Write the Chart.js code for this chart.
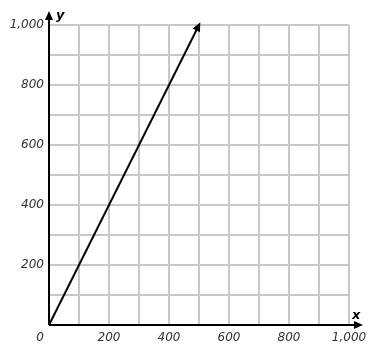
<!DOCTYPE html>
<html>
<head>
<meta charset="utf-8">
<script src="https://cdn.jsdelivr.net/npm/chart.js@4"></script>
<style>
  html, body { margin: 0; padding: 0; background: #fff; }
  #wrap { width: 375px; height: 360px; }
</style>
</head>
<body>
<div id="wrap"><canvas id="grafica"></canvas></div>
<script>
// datos de la recta (x, y)
const puntosX = [0, 500];
const puntosY = [0, 1000];
// escalas
const ejeMin = 0;
const ejeMax = 1000;
const paso = 100;
const etiquetasMarcadas = [200, 400, 600, 800, 1000];

const fuente = "'DejaVu Sans', Verdana, sans-serif";

function flecha(ctx, x0, y0, x1, y1, largo, ancho) {
  const ang = Math.atan2(y1 - y0, x1 - x0);
  ctx.beginPath();
  ctx.moveTo(x1, y1);
  ctx.lineTo(x1 - largo * Math.cos(ang) + ancho * Math.sin(ang), y1 - largo * Math.sin(ang) - ancho * Math.cos(ang));
  ctx.lineTo(x1 - largo * Math.cos(ang) - ancho * Math.sin(ang), y1 - largo * Math.sin(ang) + ancho * Math.cos(ang));
  ctx.closePath();
  ctx.fill();
}

// dibuja los ejes con flechas, la flecha de la recta y los nombres x, y
const ejesPlugin = {
  id: "ejes",
  afterDatasetsDraw(chart) {
    const ctx = chart.ctx;
    const sx = chart.scales.x, sy = chart.scales.y;
    const ox = sx.getPixelForValue(0), oy = sy.getPixelForValue(0);
    ctx.save();
    ctx.strokeStyle = "#000";
    ctx.fillStyle = "#000";
    ctx.lineWidth = 2;
    // eje y
    ctx.beginPath();
    ctx.moveTo(ox, oy);
    ctx.lineTo(ox, 16);
    ctx.stroke();
    flecha(ctx, ox, oy, ox, 11, 9, 4);
    // eje x
    ctx.beginPath();
    ctx.moveTo(ox, oy);
    ctx.lineTo(358, oy);
    ctx.stroke();
    flecha(ctx, ox, oy, 363, oy, 9, 4);
    // flecha al final de la recta
    const n = puntosX.length - 1;
    const x0 = sx.getPixelForValue(puntosX[n - 1]), y0 = sy.getPixelForValue(puntosY[n - 1]);
    const x1 = sx.getPixelForValue(puntosX[n]), y1 = sy.getPixelForValue(puntosY[n]);
    const ang = Math.atan2(y1 - y0, x1 - x0);
    flecha(ctx, x0, y0, x1 + 3 * Math.cos(ang), y1 + 3 * Math.sin(ang), 9, 4);
    // nombres de los ejes
    ctx.font = "italic bold 13px " + fuente;
    ctx.textAlign = "left";
    ctx.textBaseline = "alphabetic";
    ctx.fillText("y", ox + 7, 19);
    ctx.fillText("x", 352, oy - 6);
    // origen
    ctx.font = "italic 12px " + fuente;
    ctx.fillStyle = "#333";
    ctx.textAlign = "center";
    ctx.textBaseline = "middle";
    ctx.fillText("0", ox - 9, oy + 13);
    ctx.restore();
  }
};

new Chart(document.getElementById("grafica"), {
  type: "scatter",
  data: {
    datasets: [{
      data: puntosX.map((x, i) => ({ x: x, y: puntosY[i] })),
      showLine: true,
      borderColor: "#000",
      borderWidth: 2,
      pointRadius: 0,
      fill: false
    }]
  },
  options: {
    responsive: true,
    maintainAspectRatio: false,
    animation: false,
    events: [],
    layout: { padding: { top: 25, right: 26, left: 0, bottom: 0 } },
    plugins: { legend: { display: false }, tooltip: { enabled: false } },
    scales: {
      x: {
        type: "linear",
        min: ejeMin,
        max: ejeMax,
        afterFit: (s) => { s.height = 35; },
        border: { display: false },
        grid: { color: "#c8c8c8", lineWidth: 2, drawTicks: false },
        ticks: {
          stepSize: paso,
          padding: 6,
          color: "#333",
          font: { family: fuente, size: 12, style: "italic" },
          autoSkip: false,
          maxRotation: 0,
          callback: (v) => etiquetasMarcadas.includes(v) ? v.toLocaleString("en-US") : ""
        }
      },
      y: {
        type: "linear",
        min: ejeMin,
        max: ejeMax,
        afterFit: (s) => { s.width = 49; },
        border: { display: false },
        grid: { color: "#c8c8c8", lineWidth: 2, drawTicks: false },
        ticks: {
          stepSize: paso,
          padding: 5,
          color: "#333",
          font: { family: fuente, size: 12, style: "italic" },
          autoSkip: false,
          callback: (v) => etiquetasMarcadas.includes(v) ? v.toLocaleString("en-US") : ""
        }
      }
    }
  },
  plugins: [ejesPlugin]
});
</script>
</body>
</html>
